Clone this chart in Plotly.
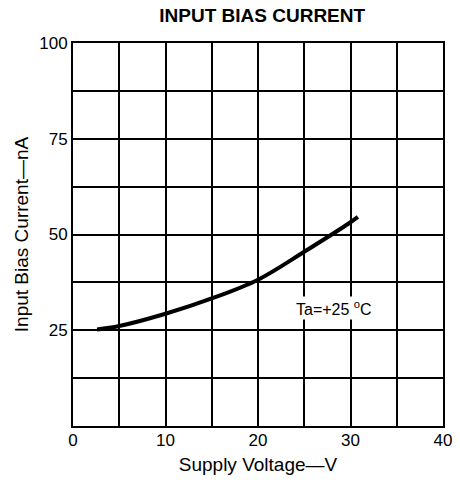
import plotly.graph_objects as go

# Data
supply_voltage = [2.6, 5, 10, 15, 20, 25, 30, 30.8]
bias_current = [25.2, 26.1, 29.3, 33.3, 38.2, 45.5, 53.2, 54.6]

x_tickvals = [0, 10, 20, 30, 40]
x_ticktext = ["0", "10", "20", "30", "40"]
y_tickvals = [25, 50, 75, 100]
y_ticktext = ["25", "50", "75", "100"]
x_grid_step = 5
y_grid_step = 12.5

title_text = "INPUT BIAS CURRENT"
x_title = "Supply Voltage—V"
y_title = "Input Bias Current—nA"
note_text = "Ta=+25 <sup>o</sup>C"
note_x, note_y = 28.2, 30.8

FONT = "Liberation Sans, Arial, sans-serif"

fig = go.Figure()
fig.add_trace(go.Scatter(
    x=supply_voltage, y=bias_current, mode="lines",
    line=dict(color="black", width=4, shape="spline", smoothing=1.0),
    showlegend=False, hoverinfo="skip",
))

fig.add_annotation(x=note_x, y=note_y, xref="x", yref="y", text=note_text,
                   showarrow=False, font=dict(family=FONT, size=16, color="black"),
                   bgcolor="white")

fig.update_layout(
    width=460, height=482,
    margin=dict(l=73, r=8, t=43, b=56),
    paper_bgcolor="white", plot_bgcolor="white",
    title=dict(text="<b>" + title_text + "</b>", x=0.57, xanchor="center",
               y=1 - 15 / 482, yanchor="middle", yref="container",
               font=dict(family=FONT, size=19, color="black")),
    font=dict(family=FONT, color="black"),
)

fig.update_xaxes(
    range=[0, 40], tickvals=x_tickvals, ticktext=x_ticktext,
    showgrid=True, gridcolor="black", gridwidth=1.5,
    minor=dict(tick0=0, dtick=x_grid_step, showgrid=True, gridcolor="black",
               gridwidth=1.5, ticks=""),
    showline=True, linecolor="black", linewidth=2, mirror=True,
    ticks="", zeroline=False, ticklabelstandoff=-2,
    tickfont=dict(family=FONT, size=17, color="black"),
    title=dict(text=x_title, font=dict(family=FONT, size=19, color="black"), standoff=8),
)
fig.update_yaxes(
    range=[0, 100], tickvals=y_tickvals, ticktext=y_ticktext,
    showgrid=True, gridcolor="black", gridwidth=1.5,
    minor=dict(tick0=0, dtick=y_grid_step, showgrid=True, gridcolor="black",
               gridwidth=1.5, ticks=""),
    showline=True, linecolor="black", linewidth=2, mirror=True,
    ticks="", zeroline=False,
    tickfont=dict(family=FONT, size=17, color="black"),
    title=dict(text=y_title, font=dict(family=FONT, size=19, color="black"), standoff=6),
)

fig.write_html("out.html", config={"displayModeBar": False},
               post_script="document.body.style.margin='0';document.body.style.overflow='hidden';")
